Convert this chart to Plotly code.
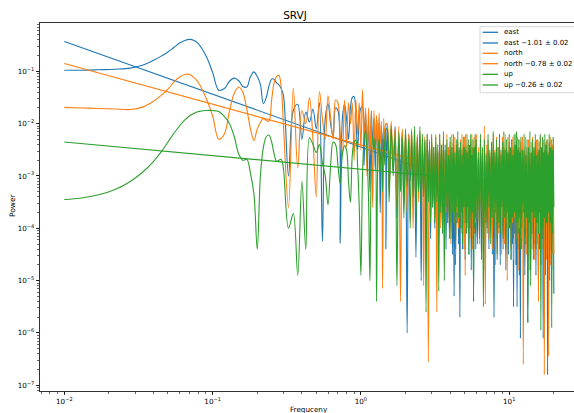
import plotly.graph_objects as go

# ---------------- data (frequency grid and log10 power) -------------
freq_low = [0.01, 0.013, 0.017, 0.022, 0.028, 0.034, 0.04, 0.045, 0.05, 0.055]
freq_peak = [0.06, 0.065, 0.07, 0.075, 0.08, 0.09, 0.1, 0.11, 0.12, 0.13,
             0.14, 0.15, 0.16, 0.17, 0.18, 0.19, 0.2, 0.21, 0.22, 0.23,
             0.24, 0.25, 0.26, 0.27, 0.28, 0.29]
freq_mid = [0.3, 0.325, 0.35, 0.375, 0.4, 0.425, 0.45, 0.475, 0.5, 0.525,
            0.55, 0.575, 0.6, 0.625, 0.65, 0.675, 0.7, 0.725, 0.75, 0.775,
            0.8, 0.825, 0.85, 0.875, 0.9, 0.925, 0.95, 0.975, 1.0, 1.025,
            1.05, 1.075, 1.1, 1.125, 1.15, 1.175, 1.2, 1.225, 1.25, 1.275,
            1.3, 1.325, 1.35, 1.375, 1.4, 1.425, 1.45, 1.475]
freq_band1 = [1.5, 1.55, 1.6, 1.65, 1.7, 1.75, 1.8, 1.85, 1.9, 1.95,
              2.0, 2.05, 2.1, 2.15, 2.2, 2.25, 2.3, 2.35, 2.4, 2.45,
              2.5, 2.55, 2.6, 2.65, 2.7, 2.75, 2.8, 2.85, 2.9, 2.95]
freq_band2 = [3.0, 3.05, 3.1, 3.15, 3.2, 3.25, 3.3, 3.35, 3.4, 3.45,
              3.5, 3.55, 3.6, 3.65, 3.7, 3.75, 3.8, 3.85, 3.9, 3.95,
              4.0, 4.05, 4.1, 4.15, 4.2, 4.25, 4.3, 4.35, 4.4, 4.45,
              4.5, 4.55, 4.6, 4.65, 4.7, 4.75, 4.8, 4.85, 4.9, 4.95,
              5.0, 5.05, 5.1, 5.15, 5.2, 5.25, 5.3, 5.35, 5.4, 5.45,
              5.5, 5.55, 5.6, 5.65, 5.7, 5.75, 5.8, 5.85, 5.9, 5.95]
freq_band3 = [6.0, 6.1, 6.2, 6.3, 6.4, 6.5, 6.6, 6.7, 6.8, 6.9,
              7.0, 7.1, 7.2, 7.3, 7.4, 7.5, 7.6, 7.7, 7.8, 7.9,
              8.0, 8.1, 8.2, 8.3, 8.4, 8.5, 8.6, 8.7, 8.8, 8.9,
              9.0, 9.1, 9.2, 9.3, 9.4, 9.5, 9.6, 9.7, 9.8, 9.9,
              10.0, 10.1, 10.2, 10.3, 10.4, 10.5, 10.6, 10.7, 10.8, 10.9,
              11.0, 11.1, 11.2, 11.3, 11.4, 11.5, 11.6, 11.7, 11.8, 11.9]
freq_band4 = [12.0, 12.15, 12.3, 12.45, 12.6, 12.75, 12.9, 13.05, 13.2, 13.35,
              13.5, 13.65, 13.8, 13.95, 14.1, 14.25, 14.4, 14.55, 14.7, 14.85,
              15.0, 15.15, 15.3, 15.45, 15.6, 15.75, 15.9, 16.05, 16.2, 16.35,
              16.5, 16.65, 16.8, 16.95, 17.1, 17.25, 17.4, 17.55, 17.7, 17.85,
              18.0, 18.15, 18.3, 18.45, 18.6, 18.75, 18.9, 19.05, 19.2, 19.35,
              19.5, 19.65, 19.8, 20.0]
frequency = freq_low + freq_peak + freq_mid + freq_band1 + freq_band2 + freq_band3 + freq_band4

east_log10_power = [
    # low / peak
    -0.98, -0.98, -0.97, -0.96, -0.94, -0.88, -0.79, -0.71, -0.63, -0.54,
    -0.46, -0.41, -0.39, -0.41, -0.47, -0.70, -1.02, -1.36, -1.33, -1.19,
    -1.13, -1.18, -1.29, -1.30, -1.10, -1.01, -1.10, -1.25, -1.62, -1.50,
    -1.28, -1.15, -1.15, -1.22, -1.26, -1.33,
    # mid
    -1.45, -3.0, -1.75, -1.63, -2.30, -1.78, -1.97, -1.72, -2.10, -1.60,
    -4.25, -1.90, -1.62, -2.00, -2.26, -1.70, -1.75, -4.29, -1.90, -1.63,
    -1.90, -2.30, -1.70, -1.50, -1.48, -1.90, -2.50, -1.90, -1.70, -1.68,
    -2.8, -1.75, -2.6, -1.95, -3.3, -1.75, -2.4, -1.9, -2.9, -1.85,
    -2.6, -2.0, -3.7, -2.05, -2.7, -2.1, -2.15, -4.4,
    # band 1
    -2.0, -3.2, -2.1, -2.9, -2.05, -3.8, -2.2, -3.0, -2.15, -3.5,
    -2.3, -6.0, -2.2, -3.1, -2.3, -3.6, -2.25, -4.55, -2.35, -3.3,
    -2.3, -5.0, -2.4, -3.4, -2.35, -3.9, -2.3, -3.2, -2.45, -4.2,
    # band 2
    -2.4, -3.6, -2.45, -4.0, -2.5, -3.4, -2.4, -4.3, -2.55, -3.7,
    -2.45, -4.1, -2.5, -3.6, -2.4, -4.4, -2.6, -3.8, -2.45, -4.2,
    -2.5, -3.9, -2.55, -4.5, -2.45, -5.3, -2.6, -4.7, -2.5, -3.9,
    -2.55, -4.3, -2.45, -5.7, -2.6, -4.0, -2.5, -4.4, -2.55, -3.8,
    -2.6, -4.6, -2.5, -4.1, -2.55, -3.9, -2.6, -4.5, -2.5, -4.0,
    -2.55, -4.8, -2.6, -4.2, -2.5, -5.4, -2.6, -4.1, -2.55, -4.4,
    # band 3
    -2.5, -4.3, -2.7, -3.9, -2.55, -4.6, -2.8, -4.1, -2.6, -4.8,
    -2.55, -4.0, -2.75, -4.4, -2.6, -3.9, -2.5, -4.5, -2.7, -5.7,
    -2.6, -4.2, -2.55, -4.6, -2.8, -4.0, -2.6, -4.7, -2.5, -4.1,
    -2.7, -4.4, -2.6, -3.9, -2.55, -4.8, -2.75, -4.2, -2.6, -4.5,
    -2.55, -4.0, -2.8, -4.6, -2.6, -4.3, -2.5, -5.5, -2.7, -4.1,
    -2.6, -4.7, -2.55, -5.5, -2.75, -4.4, -2.6, -4.9, -2.55, -6.1,
    # band 4
    -2.5, -4.4, -2.7, -4.0, -2.55, -4.9, -2.8, -4.3, -2.6, -5.8,
    -2.55, -4.2, -2.75, -4.8, -2.6, -4.1, -2.5, -4.6, -2.7, -4.3,
    -2.6, -4.9, -2.55, -4.0, -2.8, -5.2, -2.6, -4.4, -2.5, -4.7,
    -2.7, -4.2, -2.6, -6.1, -2.55, -4.5, -2.75, -4.9, -2.6, -4.3,
    -2.55, -6.8, -2.8, -4.6, -2.6, -5.0, -2.5, -4.4, -2.7, -4.8,
    -2.6, -4.3, -2.55, -5.25]

north_log10_power = [
    # low / peak
    -1.69, -1.70, -1.71, -1.72, -1.73, -1.68, -1.57, -1.46, -1.34, -1.20,
    -1.11, -1.06, -1.06, -1.12, -1.21, -1.50, -1.85, -2.30, -2.20, -1.75,
    -1.42, -1.30, -1.40, -1.72, -2.10, -2.32, -2.10, -1.98, -1.90, -1.94,
    -1.95, -1.55, -1.22, -1.10, -1.08, -1.30,
    # mid
    -2.0, -3.6, -1.32, -2.85, -1.75, -2.0, -1.5, -2.3, -3.4, -1.38,
    -1.9, -2.3, -1.47, -1.9, -2.3, -1.55, -1.6, -2.2, -2.6, -1.55,
    -2.45, -1.6, -2.0, -1.6, -2.7, -1.55, -2.2, -1.6, -2.5, -1.35,
    -2.3, -1.7, -3.0, -1.7, -2.6, -1.8, -3.6, -1.75, -2.5, -1.85,
    -2.9, -1.8, -2.4, -1.95, -5.15, -1.9, -2.7, -2.0,
    # band 1
    -2.0, -3.3, -1.95, -2.8, -2.1, -3.6, -2.05, -5.4, -2.1, -3.0,
    -2.15, -3.7, -2.2, -2.9, -2.1, -4.0, -2.25, -3.2, -2.2, -3.5,
    -2.15, -3.1, -2.3, -5.1, -2.25, -3.4, -2.2, -6.55, -2.3, -3.6,
    # band 2
    -2.25, -3.4, -2.45, -3.8, -2.2, -5.6, -2.5, -3.6, -2.2, -4.0,
    -2.4, -3.5, -2.25, -4.2, -2.55, -3.7, -2.2, -3.9, -2.45, -3.4,
    -2.35, -4.3, -2.2, -3.6, -2.5, -3.9, -2.25, -4.5, -2.4, -3.7,
    -2.35, -4.0, -2.55, -3.5, -2.3, -4.1, -2.2, -3.8, -2.45, -4.4,
    -2.25, -4.9, -2.5, -3.6, -2.2, -4.0, -2.4, -3.7, -2.55, -4.2,
    -2.3, -3.8, -2.2, -4.4, -2.45, -3.6, -2.25, -4.1, -2.5, -3.9,
    # band 3
    -2.2, -3.8, -2.45, -4.3, -2.25, -3.7, -2.5, -4.6, -2.05, -5.45,
    -2.4, -3.9, -2.3, -4.2, -2.55, -3.6, -2.35, -4.4, -2.2, -3.8,
    -2.5, -4.7, -2.25, -3.9, -2.45, -4.1, -2.2, -3.7, -2.55, -4.5,
    -2.25, -3.8, -2.45, -4.3, -2.2, -3.9, -2.5, -5.0, -2.25, -4.0,
    -2.35, -3.7, -2.55, -4.4, -2.3, -3.9, -2.25, -4.6, -2.45, -3.8,
    -2.2, -4.2, -2.5, -3.9, -2.25, -4.8, -2.45, -4.0, -2.3, -4.3,
    # band 4
    -2.35, -4.2, -2.25, -6.6, -2.5, -4.0, -2.25, -4.5, -2.45, -3.9,
    -2.3, -4.8, -2.55, -4.1, -2.35, -4.4, -2.25, -3.9, -2.5, -4.6,
    -2.35, -4.0, -2.3, -4.3, -2.55, -5.4, -2.35, -4.1, -2.25, -4.5,
    -2.45, -3.9, -2.35, -4.4, -2.3, -6.8, -2.5, -4.2, -2.35, -4.6,
    -2.3, -4.0, -2.55, -6.45, -2.35, -4.3, -2.25, -4.7, -2.45, -4.1,
    -2.4, -4.5, -2.3, -4.5]

up_log10_power = [
    # low / peak
    -3.45, -3.42, -3.36, -3.26, -3.10, -2.92, -2.72, -2.54, -2.35, -2.18,
    -2.04, -1.93, -1.85, -1.80, -1.77, -1.75, -1.75, -1.77, -1.86, -2.00,
    -2.25, -2.58, -2.70, -2.68, -2.95, -3.35, -4.4, -3.0, -2.45, -2.25,
    -2.22, -2.35, -2.58, -2.72, -2.70, -2.68,
    # mid
    -2.85, -4.0, -3.72, -4.9, -3.1, -4.4, -2.27, -2.4, -2.55, -2.4,
    -2.75, -3.0, -3.55, -2.8, -2.35, -2.4, -2.8, -3.15, -2.6, -2.42,
    -2.5, -3.1, -3.5, -2.6, -2.35, -2.32, -2.8, -3.6, -4.9, -3.0,
    -2.3, -2.13, -2.6, -3.4, -5.0, -2.8, -2.25, -2.5, -2.3, -5.4,
    -2.7, -2.3, -2.9, -2.4, -3.3, -2.3, -2.8, -2.1,
    # band 1
    -2.1, -3.5, -2.05, -3.0, -2.2, -5.1, -2.15, -3.3, -2.25, -3.8,
    -2.1, -3.2, -2.3, -4.0, -2.15, -3.4, -2.05, -3.9, -2.25, -3.3,
    -2.05, -3.6, -2.2, -3.4, -2.3, -5.6, -2.2, -3.5, -2.35, -3.9,
    # band 2
    -2.2, -3.6, -2.45, -3.9, -2.25, -3.5, -2.55, -5.2, -2.2, -3.7,
    -2.4, -4.1, -2.15, -5.0, -2.5, -3.6, -2.3, -3.9, -2.6, -3.5,
    -2.25, -4.2, -2.45, -3.7, -2.2, -3.9, -2.55, -4.4, -2.3, -3.6,
    -2.15, -3.8, -2.5, -4.0, -2.35, -3.7, -2.6, -4.3, -2.25, -3.6,
    -2.45, -3.9, -2.2, -4.1, -2.55, -3.6, -2.3, -4.5, -2.4, -3.8,
    -2.2, -3.9, -2.6, -3.7, -2.3, -5.4, -2.45, -4.0, -2.2, -3.8,
    # band 3
    -2.3, -3.8, -2.55, -4.2, -2.2, -3.7, -2.45, -5.5, -2.3, -3.9,
    -2.6, -4.1, -2.2, -3.6, -2.5, -4.3, -2.35, -3.8, -2.15, -4.0,
    -2.55, -3.7, -2.3, -4.5, -2.45, -3.9, -2.2, -4.1, -2.6, -3.6,
    -2.35, -4.2, -2.15, -3.8, -2.5, -4.4, -2.3, -3.7, -2.55, -4.0,
    -2.2, -3.9, -2.45, -4.6, -2.3, -3.8, -2.6, -4.2, -2.2, -3.7,
    -2.4, -4.3, -2.15, -3.9, -2.5, -4.1, -2.3, -3.8, -2.55, -4.4,
    # band 4
    -2.25, -4.0, -2.5, -3.7, -2.2, -4.3, -2.6, -3.8, -2.3, -5.8,
    -2.45, -3.9, -2.15, -5.1, -2.55, -3.7, -2.3, -4.2, -2.45, -3.8,
    -2.2, -4.4, -2.6, -3.9, -2.3, -4.1, -2.5, -3.7, -2.2, -5.95,
    -2.45, -4.0, -2.25, -4.4, -2.55, -3.8, -2.2, -4.6, -2.4, -3.9,
    -2.3, -4.2, -2.6, -3.7, -2.2, -4.3, -2.45, -3.9, -2.3, -5.9,
    -2.5, -4.1, -2.25, -3.6]

# power-law fits, endpoints of each fitted line (log10 power)
fit_frequency = [0.01, 20.0]
east_fit_log10 = [-0.43, -3.76]
north_fit_log10 = [-0.85, -3.42]
up_fit_log10 = [-2.35, -3.21]

legend_labels = ["east", "east −1.01 ± 0.02", "north", "north −0.78 ± 0.02",
                 "up", "up −0.26 ± 0.02"]
series_colors = ["#1f77b4", "#1f77b4", "#ff7f0e", "#ff7f0e", "#2ca02c", "#2ca02c"]

x_tickvals = [0.01, 0.1, 1, 10]
x_ticktext = ["10<sup>−2</sup>", "10<sup>−1</sup>", "10<sup>0</sup>", "10<sup>1</sup>"]
y_tickvals = [1e-7, 1e-6, 1e-5, 1e-4, 1e-3, 1e-2, 1e-1]
y_ticktext = ["10<sup>−7</sup>", "10<sup>−6</sup>", "10<sup>−5</sup>", "10<sup>−4</sup>",
              "10<sup>−3</sup>", "10<sup>−2</sup>", "10<sup>−1</sup>"]

# ---------------- figure ----------------
def to_power(vals):
    return [10 ** v for v in vals]

traces = [
    (frequency, east_log10_power),
    (fit_frequency, east_fit_log10),
    (frequency, north_log10_power),
    (fit_frequency, north_fit_log10),
    (frequency, up_log10_power),
    (fit_frequency, up_fit_log10),
]

fig = go.Figure()
for (xs, ys), name, col in zip(traces, legend_labels, series_colors):
    fig.add_trace(go.Scatter(
        x=xs, y=to_power(ys), mode="lines", name=name,
        line=dict(color=col, width=1.1, shape="spline"),
        showlegend=False, hoverinfo="skip"))

FONT = "DejaVu Sans"
axis_common = dict(
    showline=True, linecolor="black", linewidth=0.8, automargin=False,
    ticks="outside", ticklen=3.5, tickwidth=0.8, tickcolor="black",
    showgrid=False, zeroline=False,
    tickfont=dict(family=FONT, size=7.2, color="black"),
    minor=dict(ticks="outside", ticklen=2, tickwidth=0.6, tickcolor="black",
               dtick="D1", showgrid=False),
)

fig.update_xaxes(type="log", range=[-2.164, 1.437], mirror=True,
                 tickmode="array", tickvals=x_tickvals, ticktext=x_ticktext,
                 **axis_common)
fig.update_yaxes(type="log", range=[-7.109, -0.077],
                 tickmode="array", tickvals=y_tickvals, ticktext=y_ticktext,
                 **axis_common)

# plot area: x 40..574 px, y 23..391 px
L, T, W, H = 40, 23, 534, 368
def px(xpix):
    return (xpix - L) / W
def py(ypix):
    return (T + H - ypix) / H

shapes = [dict(type="rect", xref="paper", yref="paper",
               x0=px(480), x1=px(590), y0=py(92.7), y1=py(26.7),
               fillcolor="rgba(255,255,255,0.8)",
               line=dict(color="#cccccc", width=0.8), layer="above")]
annotations = []
entry_y = [32.3, 43.0, 53.3, 63.7, 74.3, 85.0]
for yy, lab, col in zip(entry_y, legend_labels, series_colors):
    shapes.append(dict(type="line", xref="paper", yref="paper",
                       x0=px(482.7), x1=px(498), y0=py(yy), y1=py(yy),
                       line=dict(color=col, width=1.3), layer="above"))
    annotations.append(dict(text=lab, xref="paper", yref="paper",
                            x=px(502), y=py(yy), xanchor="left", yanchor="middle",
                            showarrow=False,
                            font=dict(family=FONT, size=7.0, color="black")))

annotations.append(dict(text="Frequceny", xref="paper", yref="paper",
                        x=px(309), y=py(409.5), xanchor="center", yanchor="middle",
                        showarrow=False,
                        font=dict(family=FONT, size=7.2, color="black")))
annotations.append(dict(text="Power", xref="paper", yref="paper",
                        x=px(12), y=py(205), xanchor="center", yanchor="middle",
                        textangle=-90, showarrow=False,
                        font=dict(family=FONT, size=7.5, color="black")))

fig.update_layout(
    width=574, height=413,
    margin=dict(l=L, r=0, t=T, b=413 - T - H, pad=0, autoexpand=False),
    paper_bgcolor="white", plot_bgcolor="white",
    font=dict(family=FONT, size=7.2, color="black"),
    showlegend=False,
    title=dict(text="SRVJ", x=px(295), xref="paper", xanchor="center",
               y=1 - 15 / 413, yref="container", yanchor="middle",
               font=dict(family=FONT, size=10.5, color="black")),
    shapes=shapes, annotations=annotations,
)

# remove the browser's default page margin so the figure sits at the window's corner
fig.write_html("out.html",
               config={"displayModeBar": False, "staticPlot": True},
               post_script="document.body.style.margin='0';document.body.style.overflow='hidden';")
